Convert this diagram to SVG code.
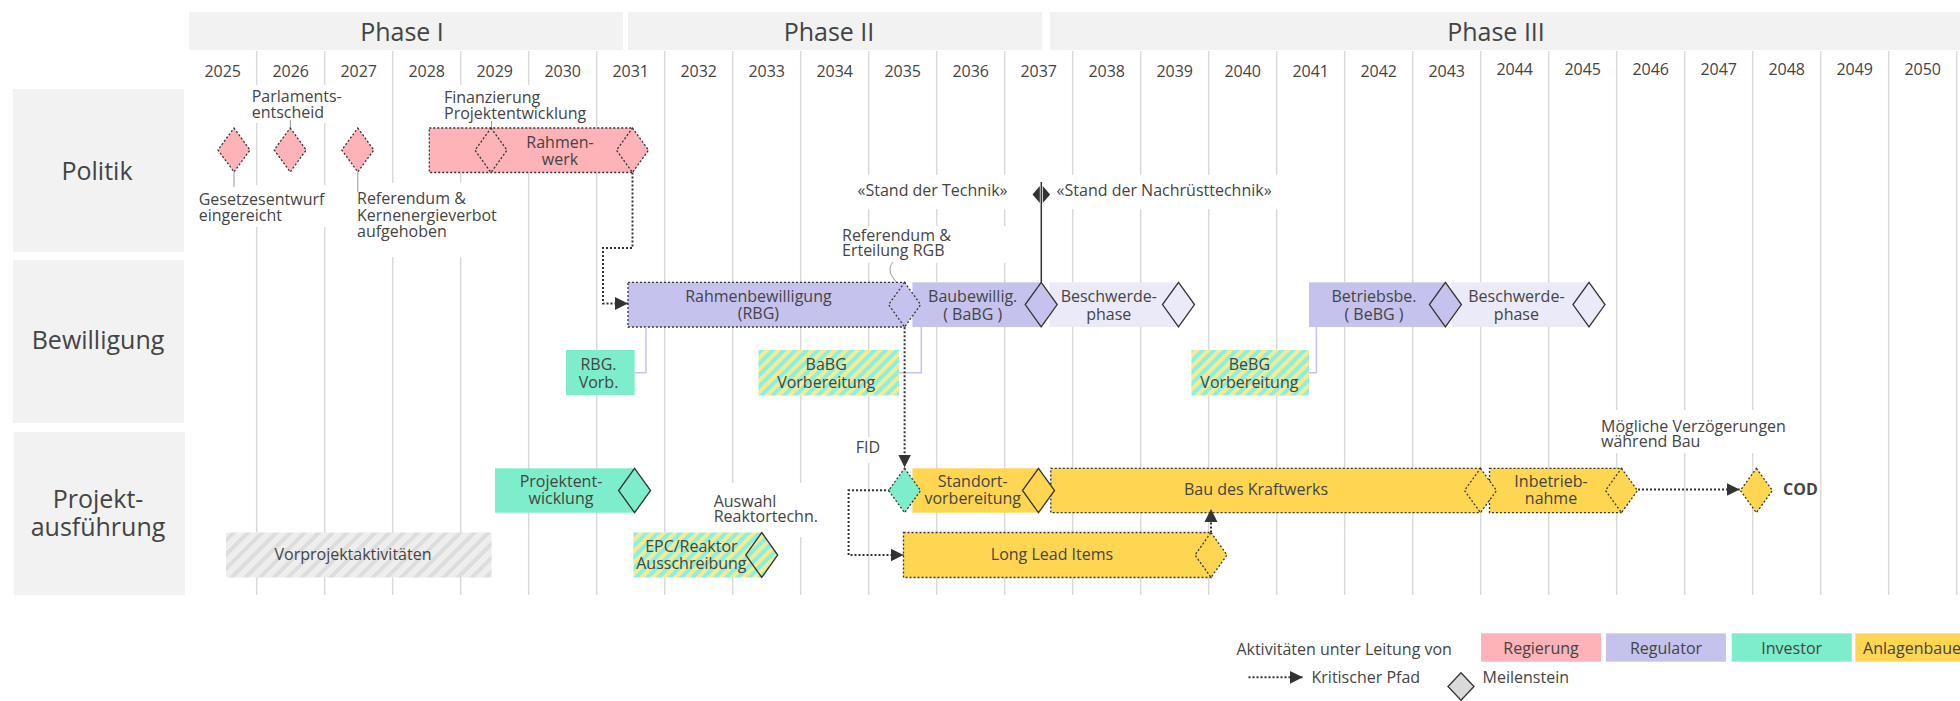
<svg xmlns="http://www.w3.org/2000/svg" width="1960" height="701" viewBox="0 0 1960 701">
<style>
.t{font-family:'Open Sans','Liberation Sans',sans-serif;font-size:16px;fill:#444}
.c{text-anchor:middle}
.big{font-family:'Open Sans','Liberation Sans',sans-serif;font-size:25px;fill:#444;text-anchor:middle}
.grid{stroke:#d9d9d9;stroke-width:1.5}
.bg{fill:#fff}
.lead{stroke:#999;stroke-width:1;fill:none}
.crit{stroke:#333;stroke-width:2;stroke-dasharray:2 2;fill:none}
.dot{stroke:#333;stroke-width:1.3;stroke-dasharray:2 2}
.ms{stroke:#333;stroke-width:1.3}
.sub{stroke:#c5c3ee;stroke-width:1.5;fill:none}
.pink{fill:#fdb3b8}.lav{fill:#c5c3ee}.pale{fill:#ebeaf9}.teal{fill:#7eedcb}.yel{fill:#ffd652}
.phase{fill:#f2f2f2}
</style>
<defs>
<pattern id="stripe" width="8" height="8" patternUnits="userSpaceOnUse" patternTransform="rotate(45)"><rect width="8" height="8" fill="#fce98d"/><rect width="4" height="8" fill="#84f2e6"/></pattern>
<pattern id="gray" width="10" height="10" patternUnits="userSpaceOnUse" patternTransform="rotate(45)"><rect width="10" height="10" fill="#eeeeee"/><rect width="4" height="10" fill="#dddddd"/></pattern>
<marker id="arr" viewBox="0 0 10 10" refX="10" refY="5" markerWidth="13" markerHeight="14" markerUnits="userSpaceOnUse" orient="auto"><path d="M0,0 L10,5 L0,10 z" fill="#333"/></marker>
</defs>
<rect width="1960" height="701" fill="#fff"/>

<g id="phases">
<rect class="phase" x="189" y="12" width="434" height="38"/>
<rect class="phase" x="628" y="12" width="414" height="38"/>
<rect class="phase" x="1050" y="12" width="912" height="38"/>
<text class="big" x="402" y="40.5">Phase I</text>
<text class="big" x="829" y="40.5">Phase II</text>
<text class="big" x="1496" y="40.5">Phase III</text>
</g>

<g id="grid">
<line class="grid" x1="256.7" y1="51" x2="256.7" y2="595"/>
<line class="grid" x1="324.7" y1="51" x2="324.7" y2="595"/>
<line class="grid" x1="392.7" y1="51" x2="392.7" y2="595"/>
<line class="grid" x1="460.7" y1="51" x2="460.7" y2="595"/>
<line class="grid" x1="528.7" y1="51" x2="528.7" y2="595"/>
<line class="grid" x1="596.7" y1="51" x2="596.7" y2="595"/>
<line class="grid" x1="664.7" y1="51" x2="664.7" y2="595"/>
<line class="grid" x1="732.7" y1="51" x2="732.7" y2="595"/>
<line class="grid" x1="800.7" y1="51" x2="800.7" y2="595"/>
<line class="grid" x1="868.7" y1="51" x2="868.7" y2="595"/>
<line class="grid" x1="936.7" y1="51" x2="936.7" y2="595"/>
<line class="grid" x1="1004.7" y1="51" x2="1004.7" y2="595"/>
<line class="grid" x1="1072.7" y1="51" x2="1072.7" y2="595"/>
<line class="grid" x1="1140.7" y1="51" x2="1140.7" y2="595"/>
<line class="grid" x1="1208.7" y1="51" x2="1208.7" y2="595"/>
<line class="grid" x1="1276.7" y1="51" x2="1276.7" y2="595"/>
<line class="grid" x1="1344.7" y1="51" x2="1344.7" y2="595"/>
<line class="grid" x1="1412.7" y1="51" x2="1412.7" y2="595"/>
<line class="grid" x1="1480.7" y1="51" x2="1480.7" y2="595"/>
<line class="grid" x1="1548.7" y1="51" x2="1548.7" y2="595"/>
<line class="grid" x1="1616.7" y1="51" x2="1616.7" y2="595"/>
<line class="grid" x1="1684.7" y1="51" x2="1684.7" y2="595"/>
<line class="grid" x1="1752.7" y1="51" x2="1752.7" y2="595"/>
<line class="grid" x1="1820.7" y1="51" x2="1820.7" y2="595"/>
<line class="grid" x1="1888.7" y1="51" x2="1888.7" y2="595"/>
<line class="grid" x1="1956.7" y1="51" x2="1956.7" y2="595"/>
</g>

<g id="years">
<text class="t c" x="222.7" y="77">2025</text>
<text class="t c" x="290.7" y="77">2026</text>
<text class="t c" x="358.7" y="77">2027</text>
<text class="t c" x="426.7" y="77">2028</text>
<text class="t c" x="494.7" y="77">2029</text>
<text class="t c" x="562.7" y="77">2030</text>
<text class="t c" x="630.7" y="77">2031</text>
<text class="t c" x="698.7" y="77">2032</text>
<text class="t c" x="766.7" y="77">2033</text>
<text class="t c" x="834.7" y="77">2034</text>
<text class="t c" x="902.7" y="77">2035</text>
<text class="t c" x="970.7" y="77">2036</text>
<text class="t c" x="1038.7" y="77">2037</text>
<text class="t c" x="1106.7" y="77">2038</text>
<text class="t c" x="1174.7" y="77">2039</text>
<text class="t c" x="1242.7" y="77">2040</text>
<text class="t c" x="1310.7" y="77">2041</text>
<text class="t c" x="1378.7" y="77">2042</text>
<text class="t c" x="1446.7" y="77">2043</text>
<text class="t c" x="1514.7" y="75">2044</text>
<text class="t c" x="1582.7" y="75">2045</text>
<text class="t c" x="1650.7" y="75">2046</text>
<text class="t c" x="1718.7" y="75">2047</text>
<text class="t c" x="1786.7" y="75">2048</text>
<text class="t c" x="1854.7" y="75">2049</text>
<text class="t c" x="1922.7" y="75">2050</text>
</g>

<g id="rows">
<rect class="phase" x="13" y="89" width="171" height="163"/>
<rect class="phase" x="13" y="260" width="171" height="163"/>
<rect class="phase" x="14" y="432" width="171" height="163"/>
<text class="big" x="97" y="180">Politik</text>
<text class="big" x="98" y="349">Bewilligung</text>
<text class="big" x="98" y="507.5">Projekt-<tspan x="98" dy="28.5">ausführung</tspan></text>
</g>

<g id="label-bgs">
<rect class="bg" x="250" y="85" width="93" height="38"/>
<rect class="bg" x="196" y="185" width="132" height="42"/>
<rect class="bg" x="354" y="183" width="142" height="74"/>
<rect class="bg" x="440" y="85" width="150" height="42"/>
<rect class="bg" x="855" y="175" width="157" height="34"/>
<rect class="bg" x="1052" y="175" width="230" height="34"/>
<rect class="bg" x="838" y="226" width="172" height="37"/>
<rect class="bg" x="850" y="437" width="35" height="26"/>
<rect class="bg" x="708" y="483" width="102" height="54"/>
<rect class="bg" x="1597" y="410" width="191" height="43"/>
</g>

<g id="labels">
<text class="t" x="251.7" y="101.7">Parlaments-<tspan x="251.7" dy="16.6">entscheid</tspan></text>
<text class="t" x="198.7" y="205">Gesetzesentwurf<tspan x="198.7" dy="16">eingereicht</tspan></text>
<text class="t" x="357" y="204">Referendum &amp;<tspan x="357" dy="16.5">Kernenergieverbot</tspan><tspan x="357" dy="16.5">aufgehoben</tspan></text>
<text class="t" x="444" y="103.3">Finanzierung<tspan x="444" dy="16">Projektentwicklung</tspan></text>
<text class="t" x="1007.5" y="196" text-anchor="end">«Stand der Technik»</text>
<text class="t" x="1056.6" y="196">«Stand der Nachrüsttechnik»</text>
<text class="t" x="842" y="240.7">Referendum &amp;<tspan x="842" dy="15.5">Erteilung RGB</tspan></text>
<text class="t" x="855.7" y="453.3">FID</text>
<text class="t" x="713.7" y="506.7">Auswahl<tspan x="713.7" dy="15">Reaktortechn.</tspan></text>
<text class="t" x="1601" y="431.7">Mögliche Verzögerungen<tspan x="1601" dy="15">während Bau</tspan></text>
</g>

<g id="leaders">
<line class="lead" x1="234" y1="172" x2="234" y2="187"/>
<line class="lead" x1="290.4" y1="120" x2="290.4" y2="128"/>
<line class="lead" x1="357.8" y1="172" x2="357.8" y2="192"/>
<line class="lead" x1="491.5" y1="121" x2="491.5" y2="128"/>
<path class="lead" d="M893,262 C888,268 890,274 894,279 S899,288 899,293"/>
<path d="M1041.3,182 V282" stroke="#333" stroke-width="1.5"/>
<polygon points="1039.8,186 1032.5,194.5 1039.8,203" fill="#333"/>
<polygon points="1042.8,186 1050.1,194.5 1042.8,203" fill="#333"/>
</g>

<g id="bars">
<g id="rahmenwerk"><rect class="pink dot" x="429.3" y="128" width="203.2" height="44.5"/><text class="t c" x="560" y="148.3">Rahmen-<tspan x="560" dy="16.7">werk</tspan></text></g>
<g id="rbg"><rect class="lav dot" x="628" y="282.3" width="276.6" height="44.7"/><text class="t c" x="758.4" y="302.3">Rahmenbewilligung<tspan x="758.4" dy="17">(RBG)</tspan></text></g>
<g id="babg"><rect class="lav" x="912.4" y="282.3" width="128.8" height="44.7"/><text class="t c" x="972.7" y="302.3">Baubewillig.<tspan x="972.7" dy="17.2">( BaBG )</tspan></text></g>
<g id="beschwerde1"><rect class="pale" x="1049.4" y="282.3" width="129.1" height="44.7"/><text class="t c" x="1108.8" y="302.3">Beschwerde-<tspan x="1108.8" dy="17.2">phase</tspan></text></g>
<g id="bebg"><rect class="lav" x="1309" y="282.3" width="136.4" height="44.7"/><text class="t c" x="1374" y="302.3">Betriebsbe.<tspan x="1374" dy="17.2">( BeBG )</tspan></text></g>
<g id="beschwerde2"><rect class="pale" x="1451.3" y="282.3" width="137.7" height="44.7"/><text class="t c" x="1516.4" y="302.3">Beschwerde-<tspan x="1516.4" dy="17.2">phase</tspan></text></g>
<g id="rbgvorb"><rect class="teal" x="566" y="350" width="68.7" height="45"/><text class="t c" x="598.5" y="370">RBG.<tspan x="598.5" dy="17.7">Vorb.</tspan></text></g>
<g id="babgvorb"><rect fill="url(#stripe)" x="758.4" y="350" width="140.6" height="45.5"/><text class="t c" x="826.2" y="370">BaBG<tspan x="826.2" dy="18">Vorbereitung</tspan></text></g>
<g id="bebgvorb"><rect fill="url(#stripe)" x="1191.4" y="350" width="117.6" height="45.5"/><text class="t c" x="1249.4" y="370">BeBG<tspan x="1249.4" dy="18">Vorbereitung</tspan></text></g>
<g id="vorprojekt"><rect fill="url(#gray)" x="226" y="532.5" width="265.6" height="45"/><text class="t c" x="353" y="560">Vorprojektaktivitäten</text></g>
<g id="projektentwicklung"><rect class="teal" x="495" y="468.3" width="139.6" height="44.4"/><text class="t c" x="561" y="486.7">Projektent-<tspan x="561" dy="17.6">wicklung</tspan></text></g>
<g id="epc"><rect fill="url(#stripe)" x="633.4" y="532.5" width="128.3" height="45"/><text class="t c" x="691.4" y="551.7">EPC/Reaktor<tspan x="691.4" dy="17.6">Ausschreibung</tspan></text></g>
<g id="standort"><rect class="yel" x="912.4" y="468.3" width="126.1" height="44.4"/><text class="t c" x="972.7" y="486.7">Standort-<tspan x="972.7" dy="17.6">vorbereitung</tspan></text></g>
<g id="bau"><rect class="yel dot" x="1050.8" y="468.3" width="429.7" height="44.4"/><text class="t c" x="1256" y="495">Bau des Kraftwerks</text></g>
<g id="inbetrieb"><rect class="yel dot" x="1489.5" y="468.3" width="132" height="44.4"/><text class="t c" x="1551" y="486.7">Inbetrieb-<tspan x="1551" dy="17.6">nahme</tspan></text></g>
<g id="lli"><rect class="yel dot" x="903.5" y="532.5" width="307.5" height="45"/><text class="t c" x="1052" y="560">Long Lead Items</text></g>
</g>

<g id="connectors">
<path class="sub" d="M646,327 V372.7 H634.7"/>
<path class="sub" d="M921.3,327 V372.7 H899"/>
<path class="sub" d="M1316.4,327 V372.7 H1309"/>
<path class="crit" d="M632.5,172.5 V248 H603 V303.5 H628" marker-end="url(#arr)"/>
<path class="crit" d="M904.6,327.3 V467.5" marker-end="url(#arr)"/>
<path class="crit" d="M890,490.3 H848.6 V555 H903.5" marker-end="url(#arr)"/>
<path class="crit" d="M1211,532.5 V509" marker-end="url(#arr)"/>
<path class="crit" d="M1638,489.5 H1739.7" marker-end="url(#arr)"/>
</g>

<g id="milestones">
<polygon id="m-gesetz" class="pink dot" points="234,128 250,150 234,172 218,150"/>
<polygon id="m-parlament" class="pink dot" points="290.2,128 306.2,150 290.2,172 274.2,150"/>
<polygon id="m-referendum" class="pink dot" points="357.8,128 373.8,150 357.8,172 341.8,150"/>
<polygon id="m-finanz" class="pink dot" points="491,128 507,150.2 491,172.5 475,150.2"/>
<polygon id="m-rahmen" class="pink dot" points="632.5,128 648.5,150.2 632.5,172.5 616.5,150.2"/>
<polygon id="m-rbg" class="lav dot" points="904.6,282.3 920.6,304.6 904.6,327 888.6,304.6"/>
<polygon id="m-babg" class="lav ms" points="1041.2,282.3 1057.2,304.6 1041.2,327 1025.2,304.6"/>
<polygon id="m-besch1" class="pale ms" points="1178.5,282.3 1194.5,304.6 1178.5,327 1162.5,304.6"/>
<polygon id="m-bebg" class="lav ms" points="1445.4,282.3 1461.4,304.6 1445.4,327 1429.4,304.6"/>
<polygon id="m-besch2" class="pale ms" points="1589,282.3 1605,304.6 1589,327 1573,304.6"/>
<polygon id="m-projekt" class="teal ms" points="634.6,468.3 650.6,490.5 634.6,512.7 618.6,490.5"/>
<polygon id="m-epc" fill="url(#stripe)" class="ms" points="761.7,532.5 777.7,555 761.7,577.5 745.7,555"/>
<polygon id="m-fid" class="teal dot" points="904.6,468.3 920.6,490.5 904.6,512.7 888.6,490.5"/>
<polygon id="m-standort" class="yel ms" points="1038.5,468.3 1054.5,490.5 1038.5,512.7 1022.5,490.5"/>
<polygon id="m-bau" class="yel dot" points="1480.5,468.3 1496.5,490.5 1480.5,512.7 1464.5,490.5"/>
<polygon id="m-inbetrieb" class="yel dot" points="1621.5,468.3 1637.5,490.5 1621.5,512.7 1605.5,490.5"/>
<polygon id="m-cod" class="yel dot" points="1756.4,468.3 1772.4,490.5 1756.4,512.7 1740.4,490.5"/>
<polygon id="m-lli" class="yel dot" points="1211,532.5 1227,555 1211,577.5 1195,555"/>
<text class="t" x="1783" y="495" font-weight="bold">COD</text>
</g>

<g id="legend">
<text class="t" x="1236.4" y="655">Aktivitäten unter Leitung von</text>
<rect class="pink" x="1481" y="633.3" width="120" height="28.4"/>
<text class="t c" x="1541" y="654">Regierung</text>
<rect class="lav" x="1606" y="633.3" width="120" height="28.4"/>
<text class="t c" x="1666" y="654">Regulator</text>
<rect class="teal" x="1731.7" y="633.3" width="120" height="28.4"/>
<text class="t c" x="1791.7" y="654">Investor</text>
<rect class="yel" x="1855.3" y="633.3" width="120" height="28.4"/>
<text class="t c" x="1915.3" y="654">Anlagenbauer</text>
<path class="crit" d="M1248.5,677.3 H1302.8" marker-end="url(#arr)"/>
<text class="t" x="1311.5" y="683">Kritischer Pfad</text>
<polygon class="ms" fill="#d9d9d9" points="1461,672.7 1474,686.5 1461,700.3 1448,686.5"/>
<text class="t" x="1482.6" y="683">Meilenstein</text>
</g>
</svg>
